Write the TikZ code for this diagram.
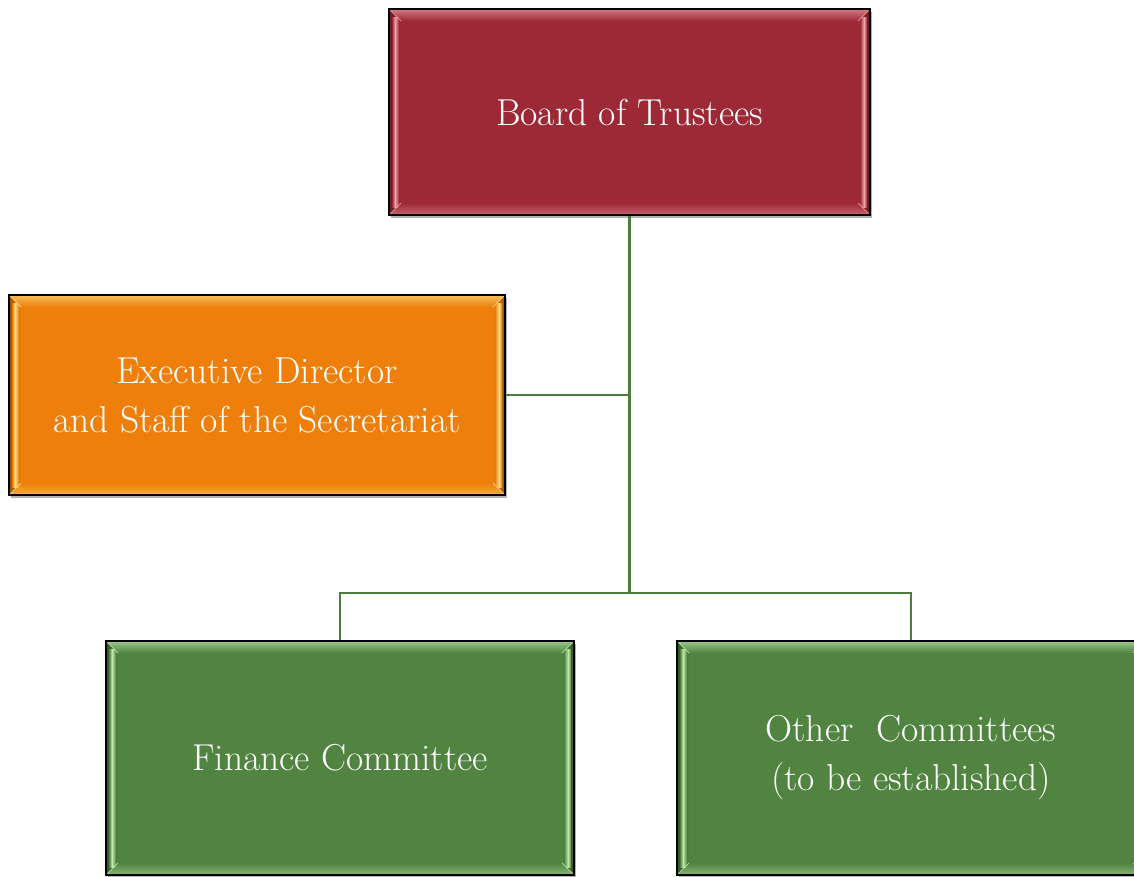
\documentclass[tikz,border=0pt]{standalone}
\usetikzlibrary{shadows,calc}
\definecolor{boardred}{RGB}{157,41,54}
\definecolor{boardlight}{RGB}{252,175,185}
\definecolor{execorange}{RGB}{238,127,10}
\definecolor{execlight}{RGB}{255,232,150}
\definecolor{comgreen}{RGB}{80,132,64}
\definecolor{comlight}{RGB}{205,245,185}
\definecolor{linegreen}{RGB}{75,125,60}
\tikzset{
  orgbox/.style 2 args={
    rectangle, draw=black, line width=1.1pt, fill=#1, text=white,
    align=center, inner sep=0pt,
    font=\fontsize{37.5}{49}\selectfont,
    drop shadow={shadow xshift=2pt, shadow yshift=-3pt, opacity=0.3, fill=black},
    path picture={
      \path (path picture bounding box.north west) coordinate (pA)
            (path picture bounding box.north east) coordinate (pB)
            (path picture bounding box.south east) coordinate (pC)
            (path picture bounding box.south west) coordinate (pD);
      \shade[top color=#2, bottom color=#1, opacity=0.6]
        (pA) -- (pB) -- ($(pB)+(-12pt,-12pt)$) -- ($(pA)+(12pt,-12pt)$) -- cycle;
      \shade[top color=#1, bottom color=#2, opacity=0.45]
        (pD) -- (pC) -- ($(pC)+(-12pt,12pt)$) -- ($(pD)+(12pt,12pt)$) -- cycle;
      \shade[left color=#1!65!black, right color=#1]
        (pA) -- ($(pA)+(12pt,-12pt)$) -- ($(pD)+(12pt,12pt)$) -- (pD) -- cycle;
      \shade[left color=#1, right color=#1!65!black]
        (pB) -- ($(pB)+(-12pt,-12pt)$) -- ($(pC)+(-12pt,12pt)$) -- (pC) -- cycle;
      \shade[left color=#1, right color=#2, opacity=0.9]
        ($(pA)+(3pt,-8pt)$) rectangle ($(pD)+(6pt,8pt)$);
      \shade[left color=#2, right color=#1, opacity=0.9]
        ($(pA)+(6pt,-8pt)$) rectangle ($(pD)+(10pt,8pt)$);
      \shade[left color=#1, right color=#2, opacity=0.9]
        ($(pB)+(-10pt,-8pt)$) rectangle ($(pC)+(-6pt,8pt)$);
      \shade[left color=#2, right color=#1, opacity=0.9]
        ($(pB)+(-6pt,-8pt)$) rectangle ($(pC)+(-3pt,8pt)$);
      \draw[#2, line width=0.8pt, opacity=0.7]
        (pA) -- ($(pA)+(12pt,-12pt)$) (pD) -- ($(pD)+(12pt,12pt)$)
        (pB) -- ($(pB)+(-12pt,-12pt)$) (pC) -- ($(pC)+(-12pt,12pt)$);
    }
  },
  conn/.style={draw=linegreen, line width=2.6pt}
}
\begin{document}
\begin{tikzpicture}[x=1pt,y=-1pt]
  \useasboundingbox (0,0) rectangle (1134,876);
  \clip (0,0) rectangle (1134,876);
  \node[orgbox={boardred}{boardlight}, minimum width=481pt, minimum height=206pt]
    (board) at (629.5,112) {Board of Trustees};
  \node[orgbox={execorange}{execlight}, minimum width=496pt, minimum height=200pt]
    (exec) at (257,395) {Executive Director\\and Staff of the Secretariat};
  \node[orgbox={comgreen}{comlight}, minimum width=468pt, minimum height=234pt]
    (fin) at (340,758) {Finance Committee};
  \node[orgbox={comgreen}{comlight}, minimum width=468pt, minimum height=234pt]
    (oth) at (911,758) {Other\ \ Committees\\(to be established)};
  \coordinate (bus) at (629.5,593);
  \draw[conn] (board.south) -- (bus);
  \draw[conn] (exec.east) -- (exec.east -| board.south);
  \draw[conn] (fin.north) |- (bus) -| (oth.north);
\end{tikzpicture}
\end{document}
